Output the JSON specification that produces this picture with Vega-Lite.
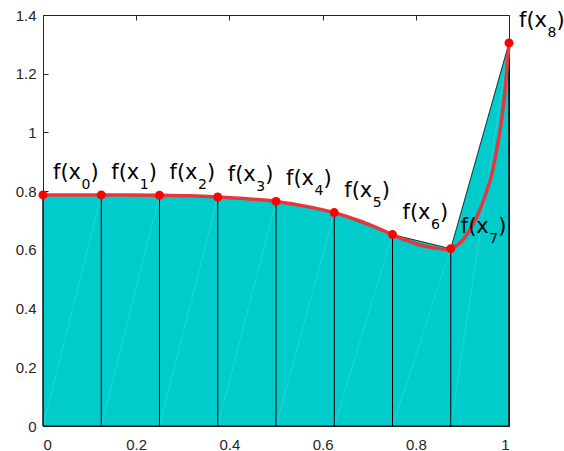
{
  "$schema": "https://vega.github.io/schema/vega-lite/v6.json",
  "width": 466,
  "height": 411,
  "autosize": "none",
  "padding": {"left": 43, "top": 15, "right": 55, "bottom": 25},
  "background": "white",
  "config": {
    "view": {"stroke": null},
    "axis": {
      "grid": false,
      "labelFont": "Liberation Sans",
      "labelFontSize": 15,
      "labelColor": "#262626",
      "domainColor": "#262626",
      "domainWidth": 1,
      "tickColor": "#262626",
      "tickWidth": 1,
      "title": null
    }
  },
  "datasets": {
    "nodes": [
      {"x": 0, "f": 0.787, "k": "0"},
      {"x": 0.125, "f": 0.787, "k": "1"},
      {"x": 0.25, "f": 0.786, "k": "2"},
      {"x": 0.375, "f": 0.78, "k": "3"},
      {"x": 0.5, "f": 0.765, "k": "4"},
      {"x": 0.625, "f": 0.727, "k": "5"},
      {"x": 0.75, "f": 0.652, "k": "6"},
      {"x": 0.875, "f": 0.604, "k": "7"},
      {"x": 1, "f": 1.305, "k": "8"}
    ],
    "diag": [
      {"xa": 0, "xb": 0.125, "fb": 0.787},
      {"xa": 0.125, "xb": 0.25, "fb": 0.786},
      {"xa": 0.25, "xb": 0.375, "fb": 0.78},
      {"xa": 0.375, "xb": 0.5, "fb": 0.765},
      {"xa": 0.5, "xb": 0.625, "fb": 0.727},
      {"xa": 0.625, "xb": 0.75, "fb": 0.652},
      {"xa": 0.75, "xb": 0.875, "fb": 0.604},
      {"xa": 0.875, "xb": 1, "fb": 1.305}
    ],
    "curve": [
      {"x": 0, "y": 0.787},
      {"x": 0.0625, "y": 0.787},
      {"x": 0.125, "y": 0.787},
      {"x": 0.1875, "y": 0.787},
      {"x": 0.25, "y": 0.786},
      {"x": 0.3125, "y": 0.784},
      {"x": 0.375, "y": 0.78},
      {"x": 0.4375, "y": 0.774},
      {"x": 0.5, "y": 0.765},
      {"x": 0.5625, "y": 0.749},
      {"x": 0.625, "y": 0.727},
      {"x": 0.6875, "y": 0.694},
      {"x": 0.75, "y": 0.652},
      {"x": 0.78, "y": 0.632},
      {"x": 0.8125, "y": 0.615},
      {"x": 0.845, "y": 0.605},
      {"x": 0.865, "y": 0.602},
      {"x": 0.875, "y": 0.604},
      {"x": 0.9, "y": 0.632},
      {"x": 0.93, "y": 0.71},
      {"x": 0.96, "y": 0.84},
      {"x": 0.98, "y": 1.0},
      {"x": 0.99, "y": 1.12},
      {"x": 0.995, "y": 1.21},
      {"x": 1, "y": 1.305}
    ]
  },
  "layer": [
    {
      "data": {"name": "nodes"},
      "mark": {"type": "area", "interpolate": "linear", "fill": "#00cccc", "stroke": "#000000", "strokeWidth": 0.8},
      "encoding": {
        "x": {"field": "x", "type": "quantitative", "scale": {"domain": [0, 1], "nice": false},
          "axis": {"values": [0, 0.2, 0.4, 0.6, 0.8, 1], "format": ".1~f", "tickSize": -5, "labelPadding": 16, "orient": "bottom"}},
        "y": {"field": "f", "type": "quantitative", "scale": {"domain": [0, 1.4], "nice": false},
          "axis": {"values": [0, 0.2, 0.4, 0.6, 0.8, 1, 1.2, 1.4], "format": ".1~f", "tickSize": -5, "labelPadding": 12, "orient": "left"}}
      }
    },
    {
      "data": {"name": "diag"},
      "mark": {"type": "rule", "stroke": "#ffffff", "strokeOpacity": 0.22, "strokeWidth": 0.7},
      "encoding": {
        "x": {"field": "xb", "type": "quantitative", "axis": null},
        "x2": {"field": "xa"},
        "y": {"field": "fb", "type": "quantitative", "axis": null},
        "y2": {"datum": 0}
      }
    },
    {
      "data": {"name": "nodes"},
      "mark": {"type": "rule", "stroke": "#000000", "strokeWidth": 1},
      "encoding": {
        "x": {"field": "x", "type": "quantitative", "axis": null},
        "y": {"field": "f", "type": "quantitative", "axis": null},
        "y2": {"datum": 0}
      }
    },
    {
      "data": {"name": "curve"},
      "mark": {"type": "line", "interpolate": "catmull-rom", "stroke": "#e6383c", "strokeWidth": 3.5},
      "encoding": {
        "x": {"field": "x", "type": "quantitative", "axis": null},
        "y": {"field": "y", "type": "quantitative", "axis": null}
      }
    },
    {
      "data": {"name": "nodes"},
      "mark": {"type": "point", "filled": true, "fill": "#ff0000", "opacity": 1, "size": 80, "shape": "circle"},
      "encoding": {
        "x": {"field": "x", "type": "quantitative", "axis": null},
        "y": {"field": "f", "type": "quantitative", "axis": null}
      }
    },
    {
      "data": {"name": "nodes"},
      "mark": {"type": "text", "text": "f(x", "font": "DejaVu Sans", "fontSize": 21, "align": "left", "baseline": "alphabetic", "dx": 10, "dy": -16, "color": "#000000"},
      "encoding": {
        "x": {"field": "x", "type": "quantitative", "axis": null},
        "y": {"field": "f", "type": "quantitative", "axis": null}
      }
    },
    {
      "data": {"name": "nodes"},
      "mark": {"type": "text", "font": "DejaVu Sans", "fontSize": 14, "align": "left", "baseline": "alphabetic", "dx": 38.5, "dy": -6, "color": "#000000"},
      "encoding": {
        "x": {"field": "x", "type": "quantitative", "axis": null},
        "y": {"field": "f", "type": "quantitative", "axis": null},
        "text": {"field": "k", "type": "nominal"}
      }
    },
    {
      "data": {"name": "nodes"},
      "mark": {"type": "text", "text": ")", "font": "DejaVu Sans", "fontSize": 21, "align": "left", "baseline": "alphabetic", "dx": 47.5, "dy": -16, "color": "#000000"},
      "encoding": {
        "x": {"field": "x", "type": "quantitative", "axis": null},
        "y": {"field": "f", "type": "quantitative", "axis": null}
      }
    },
    {
      "data": {"name": "nodes"},
      "mark": {"type": "point", "opacity": 0},
      "encoding": {
        "x": {"field": "x", "type": "quantitative", "axis": {"orient": "top", "values": [0, 0.2, 0.4, 0.6, 0.8, 1], "labels": false, "tickSize": -5}},
        "y": {"field": "f", "type": "quantitative", "axis": {"orient": "right", "values": [0, 0.2, 0.4, 0.6, 0.8, 1, 1.2, 1.4], "labels": false, "tickSize": -5}}
      }
    }
  ],
  "resolve": {"axis": {"x": "independent", "y": "independent"}}
}
